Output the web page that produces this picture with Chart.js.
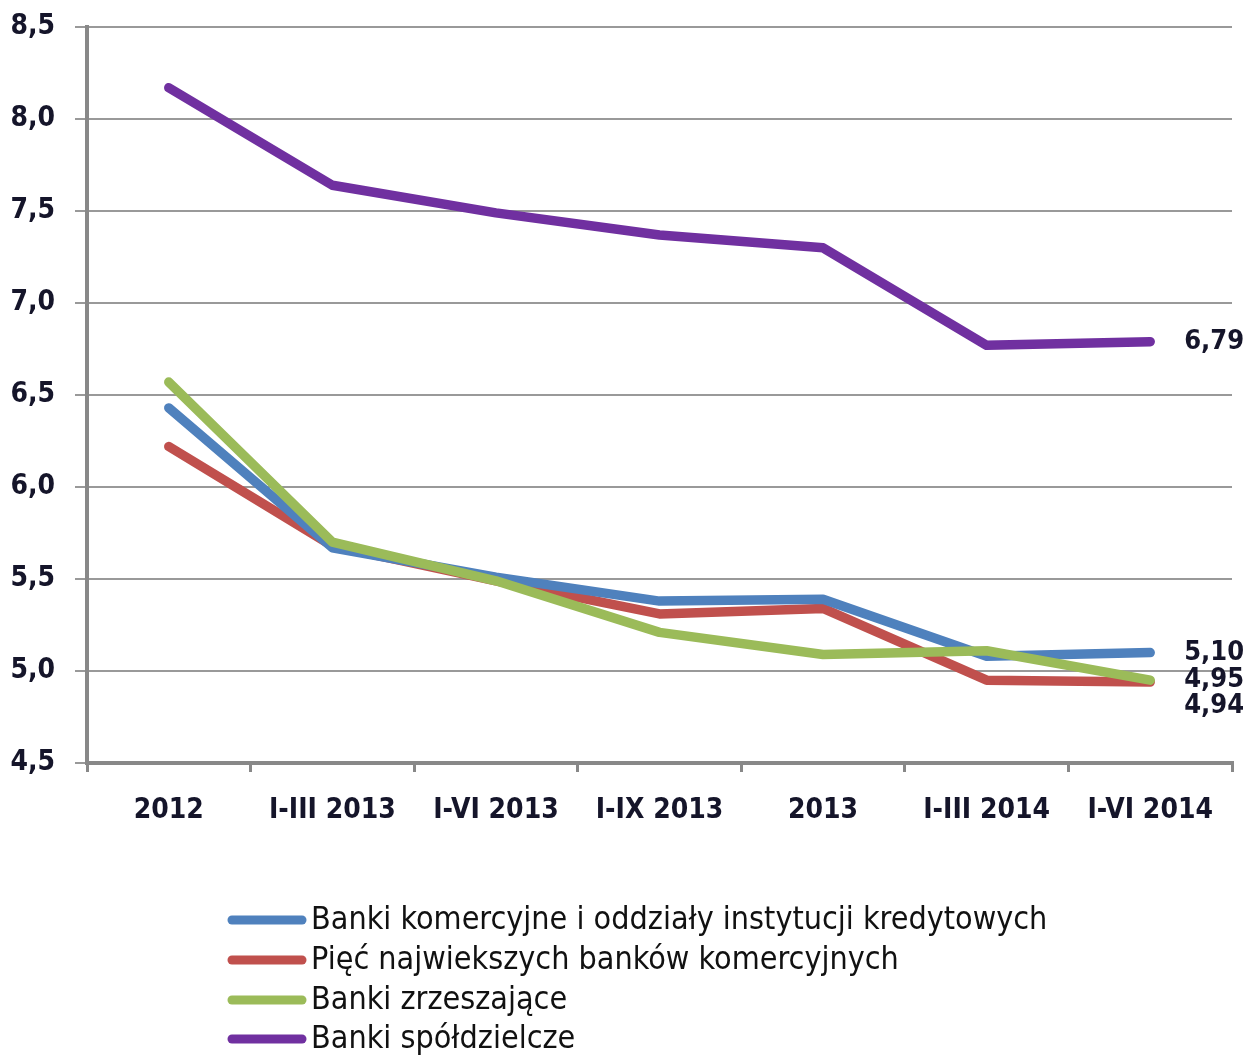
<!DOCTYPE html>
<html>
<head>
<meta charset="utf-8">
<script src="https://cdn.jsdelivr.net/npm/chart.js@4.4.1/dist/chart.umd.min.js"></script>
<style>
html,body{margin:0;padding:0;background:#fff;}
#wrap{width:1243px;height:1056px;position:relative;}
</style>
</head>
<body>
<div id="wrap"><canvas id="c" width="1243" height="1056"></canvas></div>
<script>
const categories = ["2012", "I-III 2013", "I-VI 2013", "I-IX 2013", "2013", "I-III 2014", "I-VI 2014"];
const seriesNames = [
  "Banki komercyjne i oddziały instytucji kredytowych",
  "Pięć najwiekszych banków komercyjnych",
  "Banki zrzeszające",
  "Banki spółdzielcze"
];
const bankiKomercyjne = [6.43, 5.67, 5.51, 5.38, 5.39, 5.08, 5.10];
const piecNajwiekszych = [6.22, 5.68, 5.49, 5.31, 5.34, 4.95, 4.94];
const bankiZrzeszajace = [6.57, 5.70, 5.49, 5.21, 5.09, 5.11, 4.95];
const bankiSpoldzielcze = [8.17, 7.64, 7.49, 7.37, 7.30, 6.77, 6.79];
const yTicks = [4.5, 5.0, 5.5, 6.0, 6.5, 7.0, 7.5, 8.0, 8.5];

const colors = ["#4F81BD", "#C0504D", "#9BBB59", "#7030A0"];
const FONT = "'Liberation Sans Narrow', 'Arial Narrow', 'DejaVu Sans Condensed', sans-serif";
const TXT = "#15152a";

const fmt = v => v.toFixed(2).replace('.', ',');

const endLabels = {
  id: 'endLabels',
  afterDatasetsDraw(chart) {
    const ctx = chart.ctx;
    ctx.save();
    ctx.font = "bold 27px " + FONT;
    ctx.fillStyle = TXT;
    ctx.textAlign = 'left';
    ctx.textBaseline = 'middle';
    const items = chart.data.datasets.map((ds, i) => {
      const meta = chart.getDatasetMeta(i);
      const pt = meta.data[meta.data.length - 1];
      return {x: pt.x, y: pt.y, v: ds.data[ds.data.length - 1]};
    }).sort((a, b) => a.y - b.y || b.v - a.v);
    let lastY = -1000;
    items.forEach(it => {
      let y = it.y;
      if (y < lastY + 26) y = lastY + 26;
      lastY = y;
      ctx.fillText(fmt(it.v), it.x + 34, y);
    });
    ctx.restore();
  }
};

const listLegend = {
  id: 'listLegend',
  afterDraw(chart) {
    const ctx = chart.ctx;
    ctx.save();
    const rows = [920, 960, 1000, 1039];
    chart.data.datasets.forEach((ds, i) => {
      const y = rows[i];
      ctx.strokeStyle = ds.borderColor;
      ctx.lineWidth = 9;
      ctx.lineCap = 'round';
      ctx.beginPath();
      ctx.moveTo(232, y);
      ctx.lineTo(302, y);
      ctx.stroke();
      ctx.font = "32px " + FONT;
      ctx.fillStyle = "#111";
      ctx.textAlign = 'left';
      ctx.textBaseline = 'middle';
      ctx.fillText(ds.label, 311, y + 1);
    });
    ctx.restore();
  }
};

const seriesData = [bankiKomercyjne, piecNajwiekszych, bankiZrzeszajace, bankiSpoldzielcze];
const drawOrder = [2, 3, 1, 4];

new Chart(document.getElementById('c'), {
  type: 'line',
  data: {
    labels: categories,
    datasets: seriesData.map((d, i) => ({
      label: seriesNames[i],
      data: d,
      borderColor: colors[i],
      backgroundColor: colors[i],
      borderWidth: 9.5,
      pointRadius: 0,
      tension: 0,
      borderCapStyle: 'round',
      borderJoinStyle: 'round',
      order: drawOrder[i],
      clip: false
    }))
  },
  options: {
    responsive: false,
    animation: false,
    devicePixelRatio: 1,
    layout: {padding: {top: 27, right: 11, left: 0, bottom: 0}},
    plugins: {legend: {display: false}, tooltip: {enabled: false}},
    scales: {
      x: {
        offset: true,
        grid: {display: true, drawOnChartArea: false, drawTicks: true, tickLength: 9, color: '#888', lineWidth: 3, offset: true},
        border: {display: true, color: '#888', width: 4},
        ticks: {font: {family: FONT, size: 28, weight: 'bold'}, color: TXT, padding: 22, maxRotation: 0, autoSkip: false},
        afterFit(scale) { scale.height = 293; scale.paddingLeft = 0; scale.paddingRight = 0; }
      },
      y: {
        min: 4.5, max: 8.5,
        afterBuildTicks(scale) { scale.ticks = yTicks.map(v => ({value: v})); },
        grid: {color: '#999', lineWidth: 2, tickLength: 12, drawTicks: true},
        border: {display: true, color: '#888', width: 4},
        ticks: {font: {family: FONT, size: 28, weight: 'bold'}, color: TXT, padding: 20,
          callback: v => v.toFixed(1).replace('.', ',')},
        afterFit(scale) { scale.width = 87; scale.paddingTop = 0; scale.paddingBottom = 0; }
      }
    }
  },
  plugins: [endLabels, listLegend]
});
</script>
</body>
</html>
